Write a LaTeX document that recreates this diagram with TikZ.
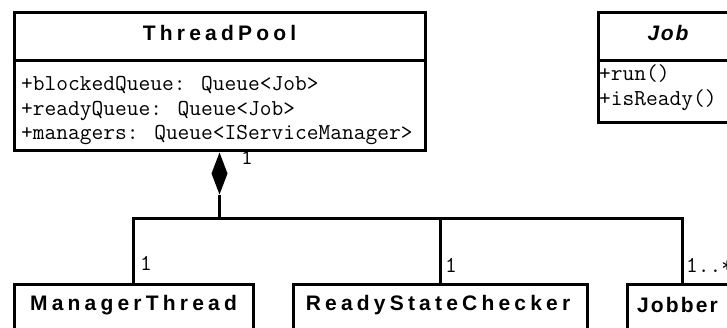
\documentclass[tikz,border=0pt]{standalone}
\usepackage{fontspec}
\setmainfont{Liberation Sans}
\newfontfamily\umlhead{Liberation Sans}[LetterSpace=20]
\begin{document}
\begin{tikzpicture}[x=1pt,y=-1pt,
  umlbox/.style={draw=black,line width=3pt,rectangle,inner sep=0pt},
  classname/.style={inner sep=0pt,font=\umlhead\fontsize{21}{24}\selectfont\bfseries},
  member/.style={inner sep=0pt,anchor=base west,font=\ttfamily\fontsize{22.8}{24}\selectfont},
  mult/.style={inner sep=0pt,anchor=base west,font=\ttfamily\fontsize{22.8}{24}\selectfont},
  link/.style={line width=3pt}]
\useasboundingbox (0,0) rectangle (727,327);
\clip (0,0) rectangle (727,327);

% ThreadPool class
\node[umlbox,minimum width=411,minimum height=138] (tp) at (219.5,81) {};
\draw[line width=3pt] (tp.west |- 0,60) -- (tp.east |- 0,60);
\node[classname] (tpname) at (219.5,33) {ThreadPool};
\node[member] (tpa) at (21,90) {+blockedQueue: Queue<Job>};
\node[member] (tpb) at (21,115) {+readyQueue: Queue<Job>};
\node[member] (tpc) at (21,139) {+managers: Queue<IServiceManager>};

% Job class
\node[umlbox,minimum width=140,minimum height=110] (job) at (668,67) {};
\draw[line width=3pt] (job.west |- 0,60) -- (job.east |- 0,60);
\node[classname,font=\umlhead\fontsize{21}{24}\selectfont\bfseries\itshape\addfontfeature{LetterSpace=8}] (jobname) at (668,33) {Job};
\node[member] (joba) at (599,80) {+run()};
\node[member] (jobb) at (599,105) {+isReady()};

% Parts of the pool
\node[umlbox,minimum width=239,minimum height=56] (mt) at (133.5,312) {};
\node[classname] (mtname) at (133.5,305) {ManagerThread};
\node[umlbox,minimum width=294,minimum height=56] (rsc) at (440,312) {};
\node[classname] (rscname) at (438,305) {ReadyStateChecker};
\node[umlbox,minimum width=110,minimum height=56] (jb) at (682,312) {};
\node[classname,anchor=west,font=\umlhead\fontsize{21}{24}\selectfont\bfseries\addfontfeature{LetterSpace=10}] (jbname) at (637,305) {Jobber};

% Composition diamond and tree connector
\coordinate (dtop) at (tp.south);
\coordinate (dbot) at ([yshift=-43pt]tp.south);
\coordinate (bus) at ([yshift=-67pt]tp.south);
\fill ([yshift=-1pt]dtop) -- ([xshift=8pt,yshift=-22pt]dtop) -- (dbot) -- ([xshift=-8pt,yshift=-22pt]dtop) -- cycle;
\draw[link] (dbot) -- (bus) -| (mt.north);
\draw[link] (bus) -| (rsc.north);
\draw[link] (bus) -| (jb.north);

% Multiplicities
\node[mult] (m0) at (241,164) {1};
\node[mult] (m1) at (140,270) {1};
\node[mult] (m2) at (445,272) {1};
\node[mult] (m3) at (686,272) {1..*};
\end{tikzpicture}
\end{document}
